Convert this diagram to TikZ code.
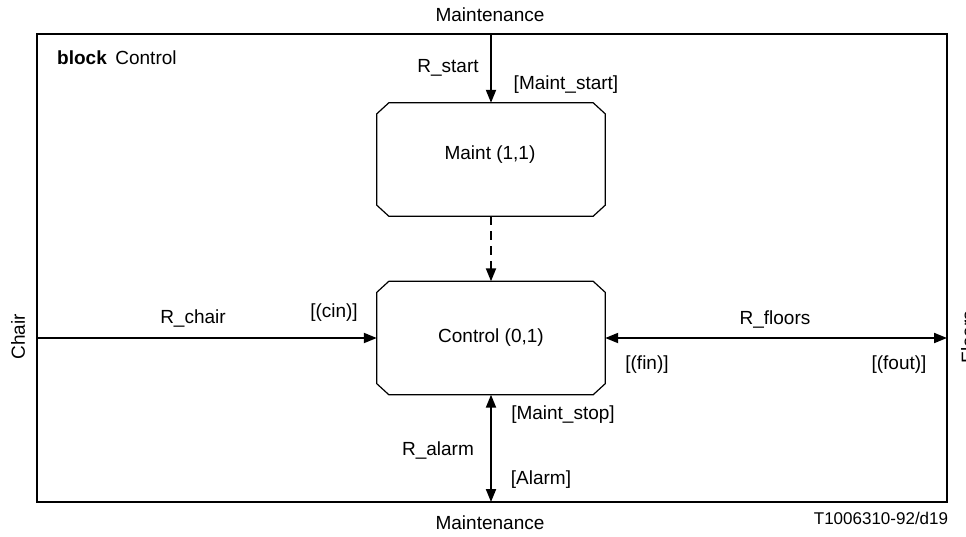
\documentclass[tikz,border=0pt]{standalone}
\usepackage{fontspec}
\setmainfont{Liberation Sans}
\usetikzlibrary{arrows.meta}
\begin{document}
\begin{tikzpicture}[x=1pt,y=-1pt,
  font=\fontsize{19}{22}\selectfont,
  frame/.style={draw,line width=1.2pt},
  procbox/.style={rectangle,minimum width=228pt,minimum height=113pt,inner sep=0pt},
  sig/.style={line width=2pt,-{Triangle[length=13pt,width=10pt]}},
  sigboth/.style={line width=2pt,{Triangle[length=13pt,width=10pt]}-{Triangle[length=13pt,width=10pt]}},
  lbl/.style={inner sep=0pt,anchor=center}]
\useasboundingbox (0,0) rectangle (966,536);
% process outline with cut corners
\newcommand{\cutbox}[1]{%
  \draw[line width=1.2pt]
    ([xshift=12pt]#1.north west) -- ([xshift=-12pt]#1.north east)
    -- ([yshift=-11pt]#1.north east) -- ([yshift=11pt]#1.south east)
    -- ([xshift=-12pt]#1.south east) -- ([xshift=12pt]#1.south west)
    -- ([yshift=11pt]#1.south west) -- ([yshift=-11pt]#1.north west) -- cycle;}
% block frame
\draw[frame] (37,34) rectangle (947,502);
\coordinate (topin) at (491,34);
\coordinate (leftin) at (37,338);
\coordinate (rightin) at (947,338);
\coordinate (botin) at (491,502);
\node[lbl,anchor=west] (title) at (57,58) {\textbf{block}\hspace{0.45em}Control};
% processes
\node[procbox] (maint) at (491,159.5) {};
\node[lbl] (maintlbl) at (490,155) {Maint (1,1)};
\node[procbox] (ctrl) at (491,338) {Control (0,1)};
\cutbox{maint}
\cutbox{ctrl}
% signal routes
\draw[sig] (topin) -- (maint.north);
\draw[sig,dashed,dash pattern=on 9pt off 6pt] (maint.south) -- (ctrl.north);
\draw[sig] (leftin) -- (ctrl.west);
\draw[sigboth] (ctrl.east) -- (rightin);
\draw[sigboth] (ctrl.south) -- (botin);
% labels
\node[lbl] (mtop) at (490,15) {Maintenance};
\node[lbl] (mbot) at (490,523) {Maintenance};
\node[lbl,rotate=90] (chair) at (18,337) {Chair};
\node[lbl,rotate=90] (floors) at (968,337) {Floors};
\node[lbl] (rstart) at (448,68) {R\_start};
\node[lbl] (mstart) at (566,85) {[Maint\_start]};
\node[lbl] (rchair) at (193,318) {R\_chair};
\node[lbl] (cin) at (334,313) {[(cin)]};
\node[lbl] (rfloors) at (775,319) {R\_floors};
\node[lbl] (fin) at (647,365) {[(fin)]};
\node[lbl] (fout) at (899,365) {[(fout)]};
\node[lbl] (mstop) at (563,415) {[Maint\_stop]};
\node[lbl] (ralarm) at (438,450) {R\_alarm};
\node[lbl] (alarm) at (541,480) {[Alarm]};
\node[lbl,font=\fontsize{17}{20}\selectfont] (ref) at (881,518) {T1006310-92/d19};
\end{tikzpicture}
\end{document}
